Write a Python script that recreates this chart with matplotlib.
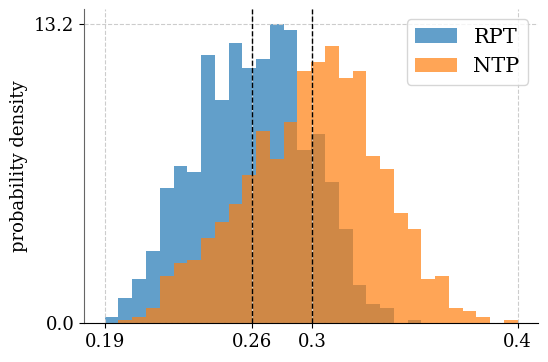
import numpy as np
import matplotlib
matplotlib.use("Agg")
import matplotlib.pyplot as plt

plt.rcParams['font.family'] = ['DejaVu Serif']

# ---- data ----
x_min = 0.188
x_max = 0.404
n_bins = 30
series_names = ["RPT", "NTP"]
# counts per bin (1000 samples each), 30 equal bins between x_min and x_max
rpt_counts = [2, 8, 14, 23, 43, 50, 48, 85, 71, 89, 81, 84, 95, 93, 55,
              60, 45, 30, 12, 6, 5, 0, 1, 0, 0, 0, 0, 0, 0, 0]
ntp_counts = [0, 1, 2, 5, 15, 19, 20, 27, 32, 38, 47, 61, 52, 64, 80,
              83, 88, 78, 80, 53, 49, 35, 30, 14, 15, 5, 4, 2, 0, 1]
x_tick_labels = ["0.19", "0.26", "0.3", "0.4"]

edges = np.linspace(x_min, x_max, n_bins + 1)
centers = (edges[:-1] + edges[1:]) / 2

fig = plt.figure(figsize=(5.48, 3.62), dpi=100)
ax = fig.add_axes([84 / 548, 1 - 323.3 / 362, (538.4 - 84) / 548, (323.3 - 9) / 362])

h1, _, _ = ax.hist(centers, bins=edges, weights=rpt_counts, density=True,
                   color='tab:blue', alpha=0.7, label=series_names[0])
h2, _, _ = ax.hist(centers, bins=edges, weights=ntp_counts, density=True,
                   color='tab:orange', alpha=0.7, label=series_names[1])

mean_rpt = np.average(centers, weights=rpt_counts)
mean_ntp = np.average(centers, weights=ntp_counts)
ax.axvline(mean_rpt, color='black', linestyle='--', linewidth=1)
ax.axvline(mean_ntp, color='black', linestyle='--', linewidth=1)

ymax = max(h1.max(), h2.max())
ax.set_xticks([x_min, mean_rpt, mean_ntp, x_max])
ax.set_xticklabels(x_tick_labels)
ax.set_yticks([0, ymax])
ax.set_yticklabels([f"{0:.1f}", f"{ymax:.1f}"])
ax.tick_params(labelsize=13)
ax.set_ylabel("probability density", fontsize=13)

ax.grid(True, linestyle='--', color='#cccccc', linewidth=0.8)
ax.spines['top'].set_visible(False)
ax.spines['right'].set_visible(False)
ax.spines['left'].set_color('#666666')

ax.legend(fontsize=15, loc='upper right')

fig.savefig("out.png", dpi=100)
